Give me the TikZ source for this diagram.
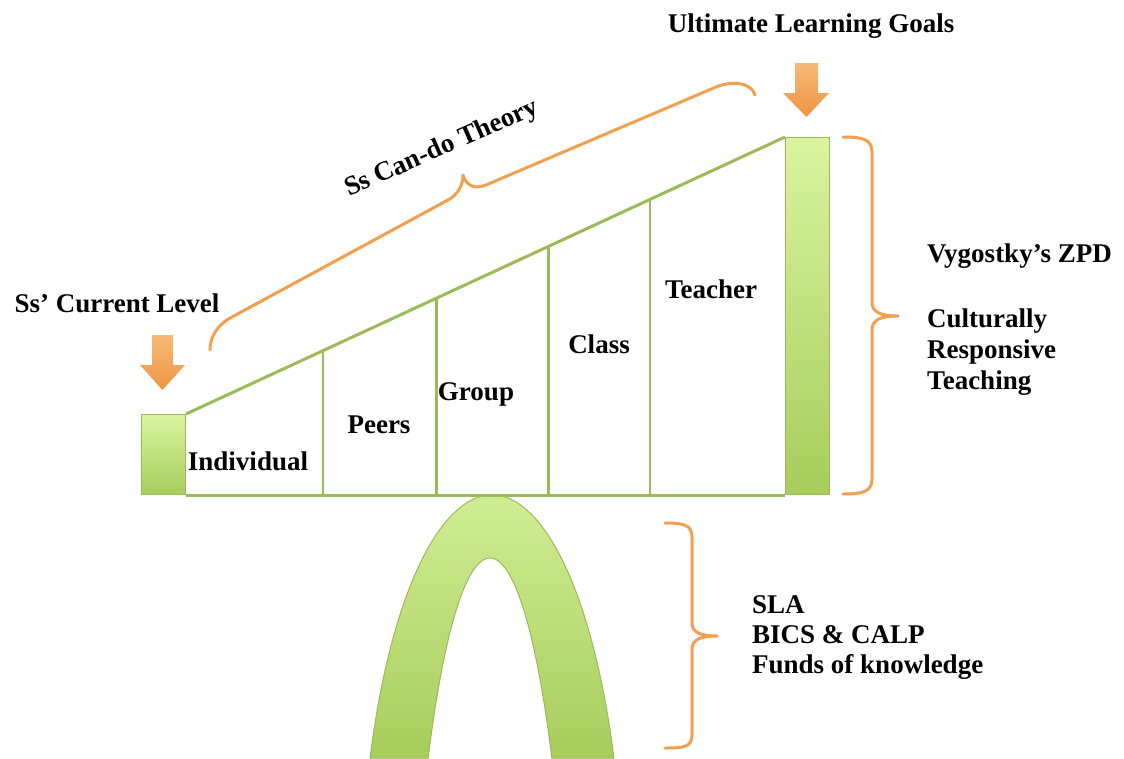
\documentclass[tikz,border=0pt]{standalone}
\usepackage{fontspec}
\setmainfont{Liberation Serif}
\usetikzlibrary{calc}
\definecolor{grn}{HTML}{9BBB59}
\definecolor{grnlight}{HTML}{DAF4A0}
\definecolor{grndark}{HTML}{A7CD5C}
\definecolor{org}{HTML}{F2A04E}
\definecolor{orglight}{HTML}{F8BA78}
\definecolor{orgdark}{HTML}{EE9440}
\begin{document}
\begin{tikzpicture}[x=1pt,y=-1pt,
  lbl/.style={font=\fontsize{27}{31}\selectfont\bfseries, inner sep=0pt},
  barbox/.style={draw=grn, line width=1pt, top color=grnlight, bottom color=grndark, inner sep=0pt, minimum width=44pt},
  greenline/.style={draw=grn, line width=3pt},
  bracestyle/.style={draw=org, line width=3pt, line cap=round, line join=round},
  arrowfill/.style={top color=orglight, bottom color=orgdark, draw=none}]
\useasboundingbox (0,0) rectangle (1124,758);
\fill[white] (0,0) rectangle (1124,758);

% arch
\path[shade, top color=grnlight, bottom color=grndark, draw=grn, line width=1pt]
  ($(492,915)+(-158.05:131.5 and 420)$) arc[start angle=-158.05, end angle=-21.95, x radius=131.5, y radius=420]
  -- ($(490,1158)+(-41.81:83 and 600)$) arc[start angle=-41.81, end angle=-138.19, x radius=83, y radius=600]
  -- cycle;

% bars
\node[barbox, minimum height=80pt, anchor=north west] (lbar) at (141,414) {};
\node[barbox, minimum height=357pt, anchor=north west] (rbar) at (785,137) {};

% triangle lines
\draw[greenline] (lbar.north east) -- (rbar.north west);
\draw[greenline] (lbar.south east) -- (rbar.south west);
\foreach \t/\n in {0.2283/d1, 0.4183/d2, 0.605/d3, 0.775/d4} {
  \coordinate (\n) at ($(lbar.north east)!\t!(rbar.north west)$);
  \draw[greenline, line width=2.5pt] (\n) -- (\n |- lbar.south east);
}

% labels in triangle
\node[lbl, anchor=base] (ind) at (248,470) {Individual};
\node[lbl, anchor=base] (peers) at (379,433) {Peers};
\node[lbl, anchor=base] (group) at (476,400) {Group};
\node[lbl, anchor=base] (class) at (599,353) {Class};
\node[lbl, anchor=base] (teacher) at (711,298) {Teacher};

% arrows
\shade[arrowfill] (152,335) -- (173,335) -- (173,365) -- (185,365) -- (162.5,390) -- (140,365) -- (152,365) -- cycle;
\shade[arrowfill] (795,63) -- (818,63) -- (818,93) -- (829,93) -- (806.5,117) -- (783,93) -- (795,93) -- cycle;

% top labels
\node[lbl, anchor=base] (goal) at (811,32) {Ultimate Learning Goals};
\node[lbl, anchor=base] (cur) at (117,312) {Ss’ Current Level};

% can-do brace
\draw[bracestyle] (210,350) .. controls (210,333) and (222,322) .. (232,317) -- (448,200)
  .. controls (458,194.6) and (463,185) .. (463,175)
  .. controls (466,185) and (474,190) .. (486,185) -- (716,87)
  .. controls (728,82) and (750,80) .. (755,95);
\node[lbl, rotate=23.8] (cando) at (442,149) {Ss Can-do Theory};

% right brace
\draw[bracestyle] (843,137) .. controls (862,137) and (872,139) .. (872,152) -- (872,302)
  .. controls (872,312) and (880,316) .. (898,316)
  .. controls (880,316) and (872,320) .. (872,330) -- (872,479)
  .. controls (872,492) and (862,494) .. (843,494);
\node[lbl, anchor=base west] (zpd) at (927,262) {Vygostky’s ZPD};
\node[lbl, anchor=base west] (crt1) at (927,327) {Culturally};
\node[lbl, anchor=base west] (crt2) at (927,358) {Responsive};
\node[lbl, anchor=base west] (crt3) at (927,389) {Teaching};

% lower brace
\draw[bracestyle] (665,523) .. controls (684,523) and (692,525) .. (692,537) -- (692,623)
  .. controls (692,632) and (700,636) .. (717,636)
  .. controls (700,636) and (692,640) .. (692,649) -- (692,735)
  .. controls (692,747) and (684,748) .. (665,748);
\node[lbl, anchor=base west] (sla) at (752,613) {SLA};
\node[lbl, anchor=base west] (bics) at (752,643) {BICS \& CALP};
\node[lbl, anchor=base west] (funds) at (752,673) {Funds of knowledge};
\end{tikzpicture}
\end{document}
